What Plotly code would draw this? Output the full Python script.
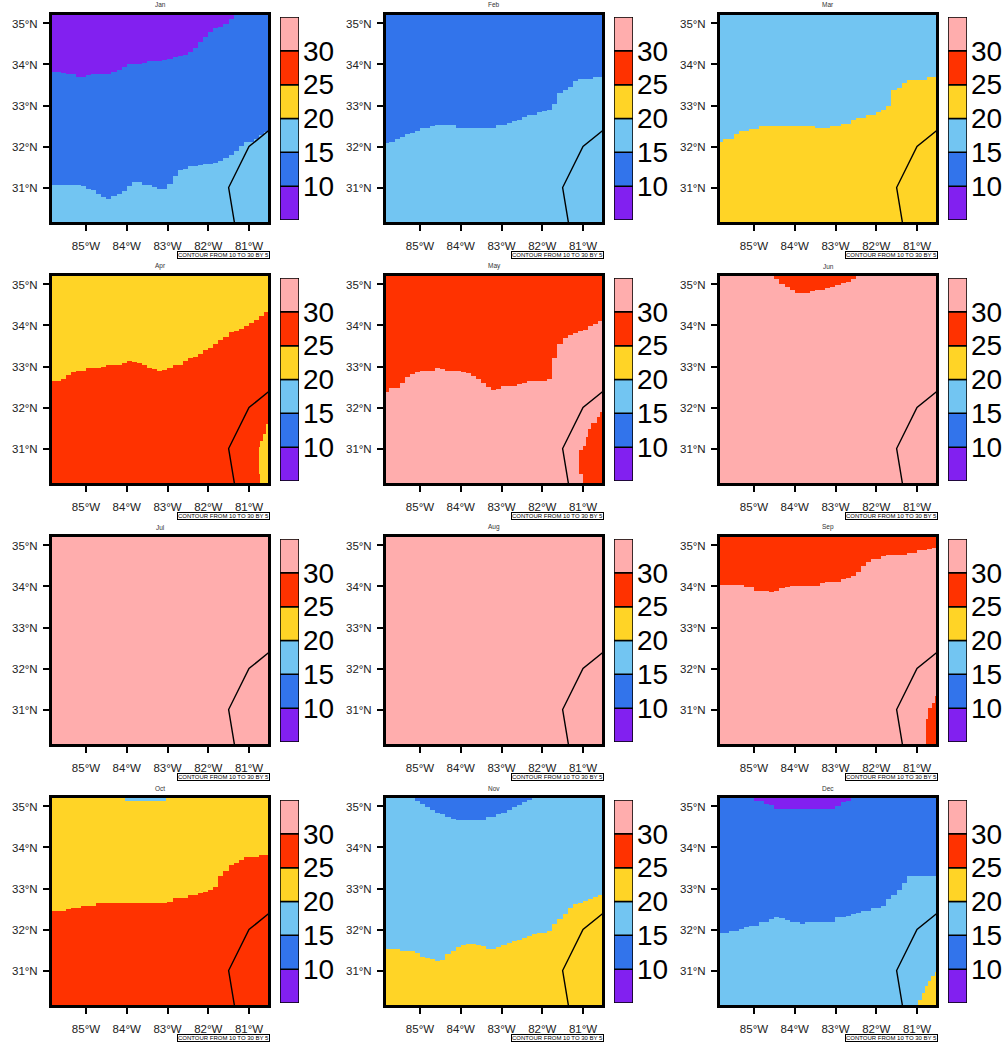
import numpy as np
import plotly.graph_objects as go

MONTHS = ["Jan","Feb","Mar","Apr","May","Jun","Jul","Aug","Sep","Oct","Nov","Dec"]
LEVELS = [10, 15, 20, 25, 30]
COLORS = ["#8220F0", "#3274EB", "#72C5F2", "#FFD426", "#FF3200", "#FFADAD"]
LON_TICKS = [-85, -84, -83, -82, -81]
LON_LABELS = ["85°W", "84°W", "83°W", "82°W", "81°W"]
LAT_TICKS = [31, 32, 33, 34, 35]
LAT_LABELS = ["31°N", "32°N", "33°N", "34°N", "35°N"]
BORDER_LON = [-80.5, -81.0, -81.5, -81.35]
BORDER_LAT = [32.4, 32.0, 31.0, 30.1]
NOTE = "CONTOUR FROM 10 TO 30 BY 5"
NO = 99

# Class boundary latitude in each 0.125 degree longitude column
JAN_10 = [33.83,33.83,33.8,33.78,33.77,33.70,33.70,33.74,33.77,33.77,33.77,33.78,33.83,33.88,33.95,34.02,34.03,34.03,34.05,34.09,34.09,34.09,34.12,34.15,34.19,34.22,34.24,34.31,34.41,34.55,34.68,34.80,34.88,34.92,35.0,35.1,35.2,NO,NO,NO,NO,NO,NO]
JAN_15 = [31.08,31.08,31.08,31.08,31.08,31.08,31.04,30.98,30.94,30.87,30.79,30.75,30.80,30.85,30.93,31.05,31.14,31.14,31.09,31.06,31.02,30.97,30.96,31.1,31.3,31.44,31.46,31.52,31.53,31.57,31.59,31.59,31.61,31.67,31.72,31.8,31.9,32.03,32.12,32.12,32.2,32.28,32.36]
FEB_15 = [32.08,32.12,32.18,32.24,32.32,32.34,32.38,32.46,32.46,32.5,32.52,32.52,32.52,32.52,32.47,32.47,32.47,32.47,32.47,32.47,32.47,32.47,32.52,32.53,32.59,32.63,32.67,32.73,32.78,32.79,32.85,32.86,32.91,33.05,33.3,33.38,33.46,33.6,33.64,33.64,33.64,33.7,33.7]
MAR_20 = [32.12,32.2,32.2,32.3,32.38,32.38,32.44,32.44,32.51,32.51,32.51,32.51,32.51,32.51,32.51,32.51,32.51,32.51,32.51,32.46,32.46,32.46,32.51,32.51,32.57,32.57,32.65,32.71,32.71,32.78,32.78,32.84,32.9,33.0,33.38,33.44,33.56,33.63,33.63,33.63,33.63,33.7,33.7]
APR_25 = [32.65,32.65,32.71,32.81,32.86,32.91,32.91,32.97,32.97,32.97,33.0,33.05,33.05,33.05,33.09,33.14,33.12,33.08,33.04,32.98,32.95,32.91,32.93,32.97,33.04,33.04,33.14,33.2,33.25,33.33,33.4,33.46,33.55,33.64,33.72,33.85,33.88,33.93,34.0,34.06,34.15,34.25,34.32]
MAY_30 = [32.38,32.48,32.48,32.61,32.75,32.83,32.86,32.91,32.91,32.91,32.97,32.95,32.91,32.91,32.91,32.86,32.84,32.78,32.7,32.6,32.5,32.45,32.46,32.52,32.52,32.54,32.59,32.6,32.65,32.65,32.65,32.65,32.7,33.2,33.55,33.7,33.78,33.83,33.87,33.9,33.98,34.05,34.11]
JUN_30 = [NO,NO,NO,NO,NO,NO,NO,NO,NO,NO,NO,35.14,35.03,34.95,34.87,34.81,34.81,34.81,34.85,34.87,34.87,34.93,34.95,34.99,35.05,35.06,35.15,35.2,NO,NO,NO,NO,NO,NO,NO,NO,NO,NO,NO,NO,NO,NO,NO]
SEP_30 = [34.04,34.04,34.04,34.04,34.04,34.01,33.98,33.91,33.91,33.91,33.88,33.91,33.96,33.98,34.03,34.03,34.03,34.03,34.03,34.03,34.08,34.11,34.11,34.11,34.18,34.22,34.27,34.37,34.5,34.6,34.67,34.69,34.74,34.77,34.77,34.77,34.77,34.82,34.82,34.88,34.9,34.92,34.95]
OCT_25 = [32.46,32.46,32.46,32.5,32.52,32.52,32.58,32.58,32.58,32.65,32.65,32.65,32.65,32.65,32.65,32.65,32.65,32.65,32.65,32.65,32.65,32.65,32.65,32.68,32.78,32.78,32.78,32.84,32.84,32.9,32.92,32.98,33.04,33.31,33.45,33.58,33.63,33.71,33.77,33.77,33.77,33.83,33.83]
NOV_15 = [NO,NO,NO,NO,NO,NO,35.15,35.07,34.98,34.93,34.85,34.83,34.75,34.7,34.69,34.69,34.69,34.69,34.69,34.69,34.75,34.75,34.83,34.85,34.93,35.0,35.05,35.1,35.17,NO,NO,NO,NO,NO,NO,NO,NO,NO,NO,NO,NO,NO,NO]
NOV_20 = [31.55,31.55,31.52,31.48,31.48,31.48,31.44,31.34,31.33,31.29,31.24,31.27,31.4,31.49,31.58,31.65,31.67,31.67,31.65,31.6,31.55,31.55,31.58,31.64,31.68,31.72,31.75,31.8,31.85,31.9,31.93,31.93,31.97,32.14,32.26,32.38,32.52,32.62,32.67,32.7,32.77,32.8,32.85]
DEC_10 = [NO,NO,NO,NO,NO,NO,NO,35.15,35.15,35.07,35.05,34.95,34.95,34.95,34.95,34.95,34.95,34.95,34.95,34.95,34.95,34.95,34.95,35.02,35.1,35.15,NO,NO,NO,NO,NO,NO,NO,NO,NO,NO,NO,NO,NO,NO,NO,NO,NO]
DEC_15 = [31.93,31.93,31.96,31.99,32.03,32.06,32.09,32.11,32.18,32.2,32.26,32.33,32.28,32.24,32.2,32.2,32.14,32.18,32.2,32.2,32.2,32.2,32.2,32.33,32.33,32.35,32.38,32.42,32.46,32.46,32.52,32.52,32.58,32.75,32.85,32.99,33.14,33.32,33.32,33.32,33.32,33.32,33.32]

# Smaller features: longitude where each step starts, and its latitude
APR_EAST_LON = [-80.755, -80.706, -80.65, -80.59]
APR_EAST_TOP = [31.04, 31.2, 31.37, 31.61]
APR_EAST_BASE = [30.39, -NO, -NO, -NO]
MAY_EAST_LON = [-81.08, -81.0, -80.94, -80.88, -80.8, -80.67, -80.59]
MAY_EAST_TOP = [30.96, 31.08, 31.28, 31.49, 31.65, 31.78, 31.9]
MAY_EAST_BASE = [30.39, 30.18, -NO, -NO, -NO, -NO, -NO]
SEP_EAST_LON = [-80.77, -80.71, -80.62, -80.57]
SEP_EAST_TOP = [30.78, 31.04, 31.17, 31.35]
OCT_NORTH_LON = [-84.03, -83.03]
OCT_NORTH_LAT = [35.14, NO]
DEC_EAST_LON = [-81.06, -80.98, -80.89, -80.81, -80.73, -80.65, -80.57]
DEC_EAST_TOP = [30.19, 30.31, 30.47, 30.63, 30.76, 30.88, 30.96]

COL_LON = (-85.875 + 0.125 * np.arange(43)).tolist()

# month: (base class, [(step lons, step lats, side, class), ...])
FIELDS = {
    "Jan": (1, [(COL_LON, JAN_10, "above", 0), (COL_LON, JAN_15, "below", 2)]),
    "Feb": (1, [(COL_LON, FEB_15, "below", 2)]),
    "Mar": (2, [(COL_LON, MAR_20, "below", 3)]),
    "Apr": (4, [(COL_LON, APR_25, "above", 3), (APR_EAST_LON, APR_EAST_TOP, "below", 3), (APR_EAST_LON, APR_EAST_BASE, "below", 4)]),
    "May": (5, [(COL_LON, MAY_30, "above", 4), (MAY_EAST_LON, MAY_EAST_TOP, "below", 4), (MAY_EAST_LON, MAY_EAST_BASE, "below", 5)]),
    "Jun": (5, [(COL_LON, JUN_30, "above", 4)]),
    "Jul": (5, []),
    "Aug": (5, []),
    "Sep": (5, [(COL_LON, SEP_30, "above", 4), (SEP_EAST_LON, SEP_EAST_TOP, "below", 4)]),
    "Oct": (4, [(COL_LON, OCT_25, "above", 3), (OCT_NORTH_LON, OCT_NORTH_LAT, "above", 2)]),
    "Nov": (2, [(COL_LON, NOV_15, "above", 1), (COL_LON, NOV_20, "below", 3)]),
    "Dec": (1, [(COL_LON, DEC_10, "above", 0), (COL_LON, DEC_15, "below", 2), (DEC_EAST_LON, DEC_EAST_TOP, "below", 3)]),
}

grid_x = -85.875 + (np.arange(172) + 0.5) / 32
grid_y = 30.1 + (np.arange(258) + 0.5) * 0.02


def field(base, layers):
    z = np.full((grid_y.size, grid_x.size), base, dtype=np.int8)
    for lons, lats, side, cls in layers:
        lons = np.asarray(lons)
        lats = np.asarray(lats, dtype=float)
        idx = np.searchsorted(lons, grid_x, side="right") - 1
        edge = np.where(idx >= 0, lats[np.clip(idx, 0, None)], np.nan)
        yy = grid_y[:, None]
        with np.errstate(invalid="ignore"):
            mask = yy >= edge if side == "above" else yy < edge
        z[mask] = cls
    return z


W, H = 1006, 1043
COL_X = [52, 386, 720]
ROW_Y = [15, 276, 537, 798]
MAP_W, MAP_H = 216, 207

scale = []
for i, c in enumerate(COLORS):
    scale += [[i / 6, c], [(i + 1) / 6, c]]

fig = go.Figure()
layout = {}
annotations = []

for n, month in enumerate(MONTHS):
    r, c = n // 3, n % 3
    x0, y0 = COL_X[c], ROW_Y[r]
    mx = 2 * n + 1
    bx = 2 * n + 2
    sm = "" if mx == 1 else str(mx)
    sb = str(bx)
    base, layers = FIELDS[month]
    fig.add_trace(go.Heatmap(x=grid_x, y=grid_y, z=field(base, layers), zmin=0, zmax=6 - 1e-9,
                             colorscale=scale, showscale=False, hoverinfo="skip",
                             xaxis=f"x{sm}", yaxis=f"y{sm}"))
    fig.add_trace(go.Scatter(x=BORDER_LON, y=BORDER_LAT, mode="lines", showlegend=False,
                             line=dict(color="black", width=1.4), hoverinfo="skip",
                             xaxis=f"x{sm}", yaxis=f"y{sm}"))
    fig.add_trace(go.Bar(x=[0] * 6, y=[5] * 6, base=[5, 10, 15, 20, 25, 30], width=1,
                         marker=dict(color=COLORS, line=dict(color="black", width=1.5)),
                         showlegend=False, hoverinfo="skip", cliponaxis=False,
                         xaxis=f"x{sb}", yaxis=f"y{sb}"))
    layout[f"xaxis{sm}"] = dict(
        domain=[x0 / W, (x0 + MAP_W) / W], range=[-85.834, -80.534], anchor=f"y{sm}",
        tickvals=LON_TICKS, ticktext=LON_LABELS, ticks="outside", ticklen=6, tickwidth=2,
        tickcolor="black", showline=True, linecolor="black", linewidth=3, mirror=True,
        showgrid=False, zeroline=False, ticklabelstandoff=5,
        tickfont=dict(family="Liberation Sans", size=11.5, color="#222222"))
    layout[f"yaxis{sm}"] = dict(
        domain=[1 - (y0 + MAP_H) / H, 1 - y0 / H], range=[30.159, 35.207], anchor=f"x{sm}",
        tickvals=LAT_TICKS, ticktext=LAT_LABELS, ticks="outside", ticklen=6, tickwidth=2,
        tickcolor="black", showline=True, linecolor="black", linewidth=3, mirror=True,
        showgrid=False, zeroline=False, ticklabelstandoff=3,
        tickfont=dict(family="Liberation Sans", size=11.5, color="#222222"))
    layout[f"xaxis{sb}"] = dict(
        domain=[(x0 + 228) / W, (x0 + 247) / W], range=[-0.5, 0.5], anchor=f"y{sb}",
        visible=False, fixedrange=True)
    layout[f"yaxis{sb}"] = dict(
        domain=[1 - (y0 + 205) / H, 1 - (y0 + 2) / H], range=[5, 35], anchor=f"x{sb}", side="right",
        tickvals=LEVELS, ticktext=[str(v) for v in LEVELS], ticks="", ticklabelstandoff=3,
        showline=False, showgrid=False, zeroline=False,
        tickfont=dict(family="Liberation Sans", size=28, color="black"))
    annotations.append(dict(xref="paper", yref="paper", x=(x0 + 108) / W, y=1 - (y0 - 10) / H,
                            text=month, showarrow=False, xanchor="center", yanchor="middle",
                            font=dict(family="Liberation Sans", size=6.5, color="#333333")))
    annotations.append(dict(xref="paper", yref="paper", x=(x0 + MAP_W + 1.5) / W, y=1 - (y0 + 239.7) / H,
                            text=NOTE, showarrow=False, xanchor="right", yanchor="middle",
                            width=91, height=6, borderpad=0, borderwidth=1, bordercolor="black",
                            bgcolor="white", align="center",
                            font=dict(family="Liberation Sans", size=6, color="black")))

fig.update_layout(width=W, height=H, margin=dict(l=0, r=0, t=0, b=0), paper_bgcolor="white",
                  plot_bgcolor="white", showlegend=False, barmode="overlay",
                  annotations=annotations, **layout)
fig.write_html("out.html", post_script="document.body.style.margin='0';",
               config={"displayModeBar": False})
